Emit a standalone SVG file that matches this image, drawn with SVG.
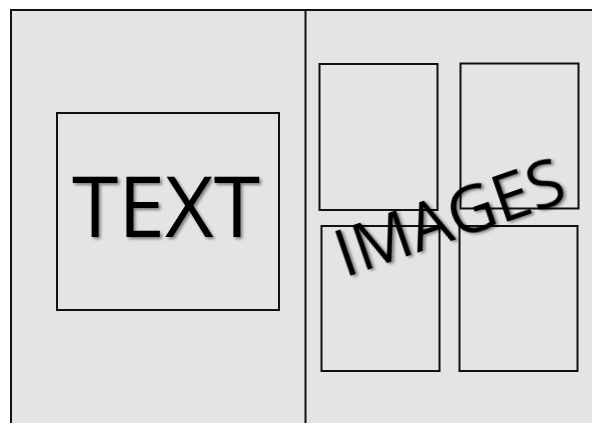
<svg xmlns="http://www.w3.org/2000/svg" width="592" height="423" viewBox="0 0 592 423">
  <defs>
    <filter id="shadow" x="-10%" y="-10%" width="130%" height="130%">
      <feDropShadow dx="2" dy="2" stdDeviation="1.5" flood-color="#000" flood-opacity="0.45"/>
    </filter>
  </defs>
  <style>
    .frame { fill: #e4e4e4; stroke: #111; stroke-width: 2; }
    .box { fill: none; stroke: #111; stroke-width: 2; }
    .label { font-family: "Open Sans", "Liberation Sans", sans-serif; fill: #000; filter: url(#shadow); }
  </style>
  <rect x="0" y="0" width="592" height="423" fill="#ffffff"/>
  <g id="page">
    <rect class="frame" x="11" y="10" width="600" height="430"/>
    <line x1="305.5" y1="10" x2="305.5" y2="423" stroke="#111" stroke-width="2"/>
  </g>
  <g id="text-block">
    <rect class="box" x="57" y="113" width="222" height="197"/>
    <text class="label" x="166" y="237" font-size="84" text-anchor="middle" textLength="188" lengthAdjust="spacingAndGlyphs">TEXT</text>
  </g>
  <g id="image-1"><rect class="box" x="319.5" y="64" width="118" height="146"/></g>
  <g id="image-2"><rect class="box" x="460.5" y="63.5" width="118" height="145"/></g>
  <g id="image-3"><rect class="box" x="321.5" y="226" width="118" height="145"/></g>
  <g id="image-4"><rect class="box" x="459.5" y="226" width="118" height="145"/></g>
  <g id="images-label">
    <text class="label" transform="translate(457,239) rotate(-19)" x="0" y="0" font-size="65" text-anchor="middle" textLength="238" lengthAdjust="spacingAndGlyphs">IMAGES</text>
  </g>
</svg>
